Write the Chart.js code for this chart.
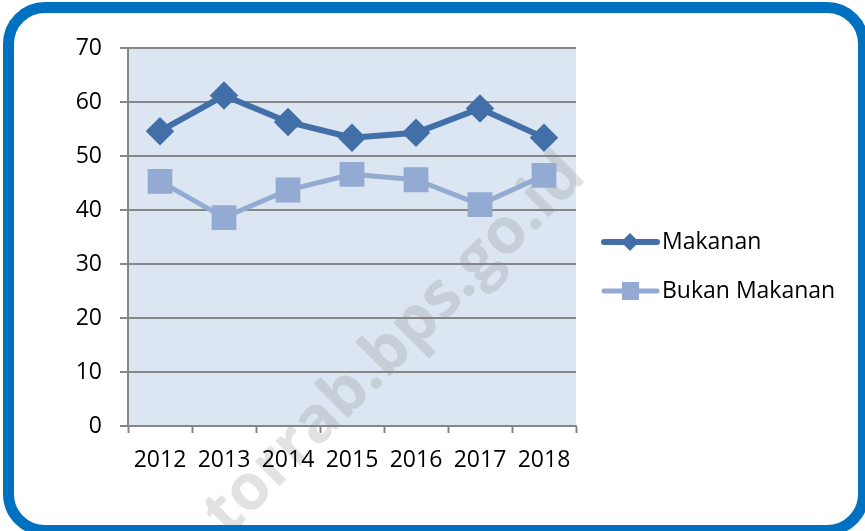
<!DOCTYPE html>
<html>
<head>
<meta charset="utf-8">
<script src="https://cdn.jsdelivr.net/npm/chart.js@4/dist/chart.umd.min.js"></script>
<style>
  html, body { margin: 0; padding: 0; background: #fff; }
  #wrap { position: relative; width: 865px; height: 531px; overflow: hidden; }
  #bingkai { position: absolute; left: 3px; top: 2px; width: 866px; height: 534px; box-sizing: border-box;
    border: 11px solid #0070c0; border-radius: 42px; pointer-events: none; }
  canvas { position: absolute; left: 0; top: 0; }
</style>
</head>
<body>
<div id="wrap">
  <canvas id="grafik" width="865" height="531"></canvas>
  <div id="bingkai"></div>
</div>
<script>
const tahun = ["2012", "2013", "2014", "2015", "2016", "2017", "2018"]
const makanan = [54.6, 61.2, 56.3, 53.4, 54.3, 58.8, 53.4]
const bukanMakanan = [45.3, 38.6, 43.7, 46.6, 45.6, 41.0, 46.4]
const namaSeri = ["Makanan", "Bukan Makanan"]
const warnaGaris = ["#426fa8", "#93aad3"]
const fontNama = "'Open Sans', 'Liberation Sans', sans-serif"

// latar area plot + watermark (di bawah garis dan label)
const latarPlot = {
	id: 'latarPlot',
	beforeDraw(chart) {
		let a = chart.chartArea
		let ctx = chart.ctx
		ctx.save()
		ctx.fillStyle = '#dce6f2'
		ctx.fillRect(a.left, a.top, a.right - a.left, a.bottom - a.top)
		ctx.translate(395, 345)
		ctx.rotate(-Math.PI / 4)
		ctx.font = 'bold 64px ' + fontNama
		ctx.fillStyle = 'rgba(110,110,110,0.2)'
		ctx.textAlign = 'center'
		ctx.textBaseline = 'middle'
		ctx.fillText('torrab.bps.go.id', 0, 0)
		ctx.restore()
	}
}

// legenda di kanan
const legendaKanan = {
	id: 'legendaKanan',
	afterDraw(chart) {
		let ctx = chart.ctx
		ctx.save()
		let posY = [242, 291]
		for (let i = 0; i < namaSeri.length; i++) {
			ctx.strokeStyle = warnaGaris[i]
			ctx.lineWidth = i == 0 ? 6 : 5
			ctx.lineCap = 'round'
			ctx.beginPath()
			ctx.moveTo(604, posY[i])
			ctx.lineTo(657, posY[i])
			ctx.stroke()
			ctx.fillStyle = warnaGaris[i]
			ctx.beginPath()
			if (i == 0) {
				ctx.moveTo(630, posY[i] - 9)
				ctx.lineTo(639, posY[i])
				ctx.lineTo(630, posY[i] + 9)
				ctx.lineTo(621, posY[i])
				ctx.closePath()
			} else {
				ctx.rect(622, posY[i] - 9, 17, 18)
			}
			ctx.fill()
			ctx.fillStyle = '#000'
			ctx.font = '23px ' + fontNama
			ctx.textBaseline = 'middle'
			ctx.textAlign = 'left'
			ctx.fillText(namaSeri[i], 662, posY[i])
		}
		ctx.restore()
	}
}

var grafik = document.getElementById('grafik').getContext('2d')
new Chart(grafik, {
	type: 'line',
	data: {
		labels: tahun,
		datasets: [{
				label: namaSeri[0],
				data: makanan,
				borderColor: warnaGaris[0],
				backgroundColor: warnaGaris[0],
				borderWidth: 6,
				pointStyle: 'rectRot',
				pointRadius: 10,
				pointHoverRadius: 10,
				tension: 0
			},
			{
				label: namaSeri[1],
				data: bukanMakanan,
				borderColor: warnaGaris[1],
				backgroundColor: warnaGaris[1],
				borderWidth: 5,
				pointStyle: 'rect',
				pointRadius: 14,
				pointHoverRadius: 14,
				tension: 0
		}]
	},
	options: {
		responsive: false,
		animation: false,
		layout: { padding: { left: 0, top: 48, right: 289, bottom: 0 } },
		plugins: {
			legend: { display: false },
			tooltip: { enabled: false }
		},
		scales: {
			x: {
				offset: true,
				afterFit: (s) => { s.height = 105 },
				grid: {
					offset: true,
					drawOnChartArea: false,
					drawTicks: true,
					tickLength: 7,
					tickWidth: 2,
					color: '#868686'
				},
				border: { color: '#868686', width: 2 },
				ticks: {
					color: '#000',
					padding: 14,
					maxRotation: 0,
					font: { family: fontNama, size: 23 }
				}
			},
			y: {
				min: 0,
				max: 70,
				afterFit: (s) => { s.width = 128 },
				grid: {
					color: '#868686',
					lineWidth: 2,
					drawTicks: true,
					tickLength: 8
				},
				border: { color: '#868686', width: 2 },
				ticks: {
					stepSize: 10,
					color: '#000',
					padding: 18,
					font: { family: fontNama, size: 23 }
				}
			}
		}
	},
	plugins: [latarPlot, legendaKanan]
})
</script>
</body>
</html>
